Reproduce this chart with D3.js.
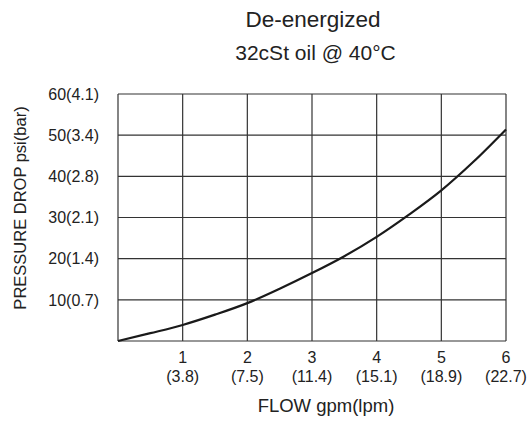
<!DOCTYPE html>
<html><head><meta charset="utf-8">
<script src="https://cdn.jsdelivr.net/npm/d3@7"></script>
<style>
html,body{margin:0;padding:0;background:#fff;}
text{font-family:"Liberation Sans",Arial,sans-serif;fill:#222;}
</style></head>
<body><svg id="c" width="529" height="422"></svg>
<script>
const title = "De-energized";
const subtitle = "32cSt oil @ 40°C";
const xTicks = [1, 2, 3, 4, 5, 6];
const xTickSub = ["(3.8)", "(7.5)", "(11.4)", "(15.1)", "(18.9)", "(22.7)"];
const yTicks = [10, 20, 30, 40, 50, 60];
const yTickLabels = ["10(0.7)", "20(1.4)", "30(2.1)", "40(2.8)", "50(3.4)", "60(4.1)"];
const flow = [0, 0.5, 1, 1.5, 2, 2.5, 3, 3.5, 4, 4.5, 5, 5.5, 6];
const pressure = [0, 1.9, 3.9, 6.4, 9.2, 12.7, 16.5, 20.6, 25.3, 30.7, 36.6, 43.6, 51.4];
const xLabel = "FLOW gpm(lpm)";
const yLabel = "PRESSURE DROP psi(bar)";

const svg = d3.select("#c");
const L = 118, R = 506, T = 94, B = 341;
const x = d3.scaleLinear().domain([0, 6]).range([L, R]);
const y = d3.scaleLinear().domain([0, 60]).range([B, T]);

// grid
const g = svg.append("g");
g.selectAll("line.v").data(xTicks).enter().append("line")
  .attr("x1", d => x(d)).attr("x2", d => x(d)).attr("y1", T).attr("y2", B)
  .attr("stroke", "#333").attr("stroke-width", 1.2);
g.selectAll("line.h").data(yTicks).enter().append("line")
  .attr("x1", L).attr("x2", R).attr("y1", d => y(d)).attr("y2", d => y(d))
  .attr("stroke", "#333").attr("stroke-width", 1.2);
g.append("line").attr("x1", L).attr("x2", L).attr("y1", T).attr("y2", B).attr("stroke", "#333").attr("stroke-width", 1.2);
g.append("line").attr("x1", L).attr("x2", R).attr("y1", B).attr("y2", B).attr("stroke", "#333").attr("stroke-width", 1.2);

// curve
const pts = flow.map((f, i) => [f, pressure[i]]);
svg.append("path").datum(pts)
  .attr("d", d3.line().x(d => x(d[0])).y(d => y(d[1])).curve(d3.curveMonotoneX))
  .attr("fill", "none").attr("stroke", "#1a1a1a").attr("stroke-width", 2.2);

// y tick labels
svg.selectAll("text.yt").data(yTicks).enter().append("text")
  .attr("x", 99).attr("y", d => y(d)).attr("dy", "0.36em")
  .attr("text-anchor", "end").attr("font-size", 16)
  .text((d, i) => yTickLabels[i]);

// x tick labels
svg.selectAll("text.xt").data(xTicks).enter().append("text")
  .attr("x", d => x(d)).attr("y", 363)
  .attr("text-anchor", "middle").attr("font-size", 16).text(d => d);
svg.selectAll("text.xs").data(xTicks).enter().append("text")
  .attr("x", d => x(d)).attr("y", 381.5)
  .attr("text-anchor", "middle").attr("font-size", 16).text((d, i) => xTickSub[i]);

// axis titles
svg.append("text").attr("x", 326).attr("y", 411.5).attr("text-anchor", "middle")
  .attr("font-size", 18.5).text(xLabel);
svg.append("text").attr("transform", "translate(25.7,208) rotate(-90)")
  .attr("text-anchor", "middle").attr("font-size", 16.5).text(yLabel);

// titles
svg.append("text").attr("x", 313).attr("y", 27.3).attr("text-anchor", "middle")
  .attr("font-size", 22.5).text(title);
svg.append("text").attr("x", 315.5).attr("y", 60).attr("text-anchor", "middle")
  .attr("font-size", 21).text(subtitle);
</script></body></html>
